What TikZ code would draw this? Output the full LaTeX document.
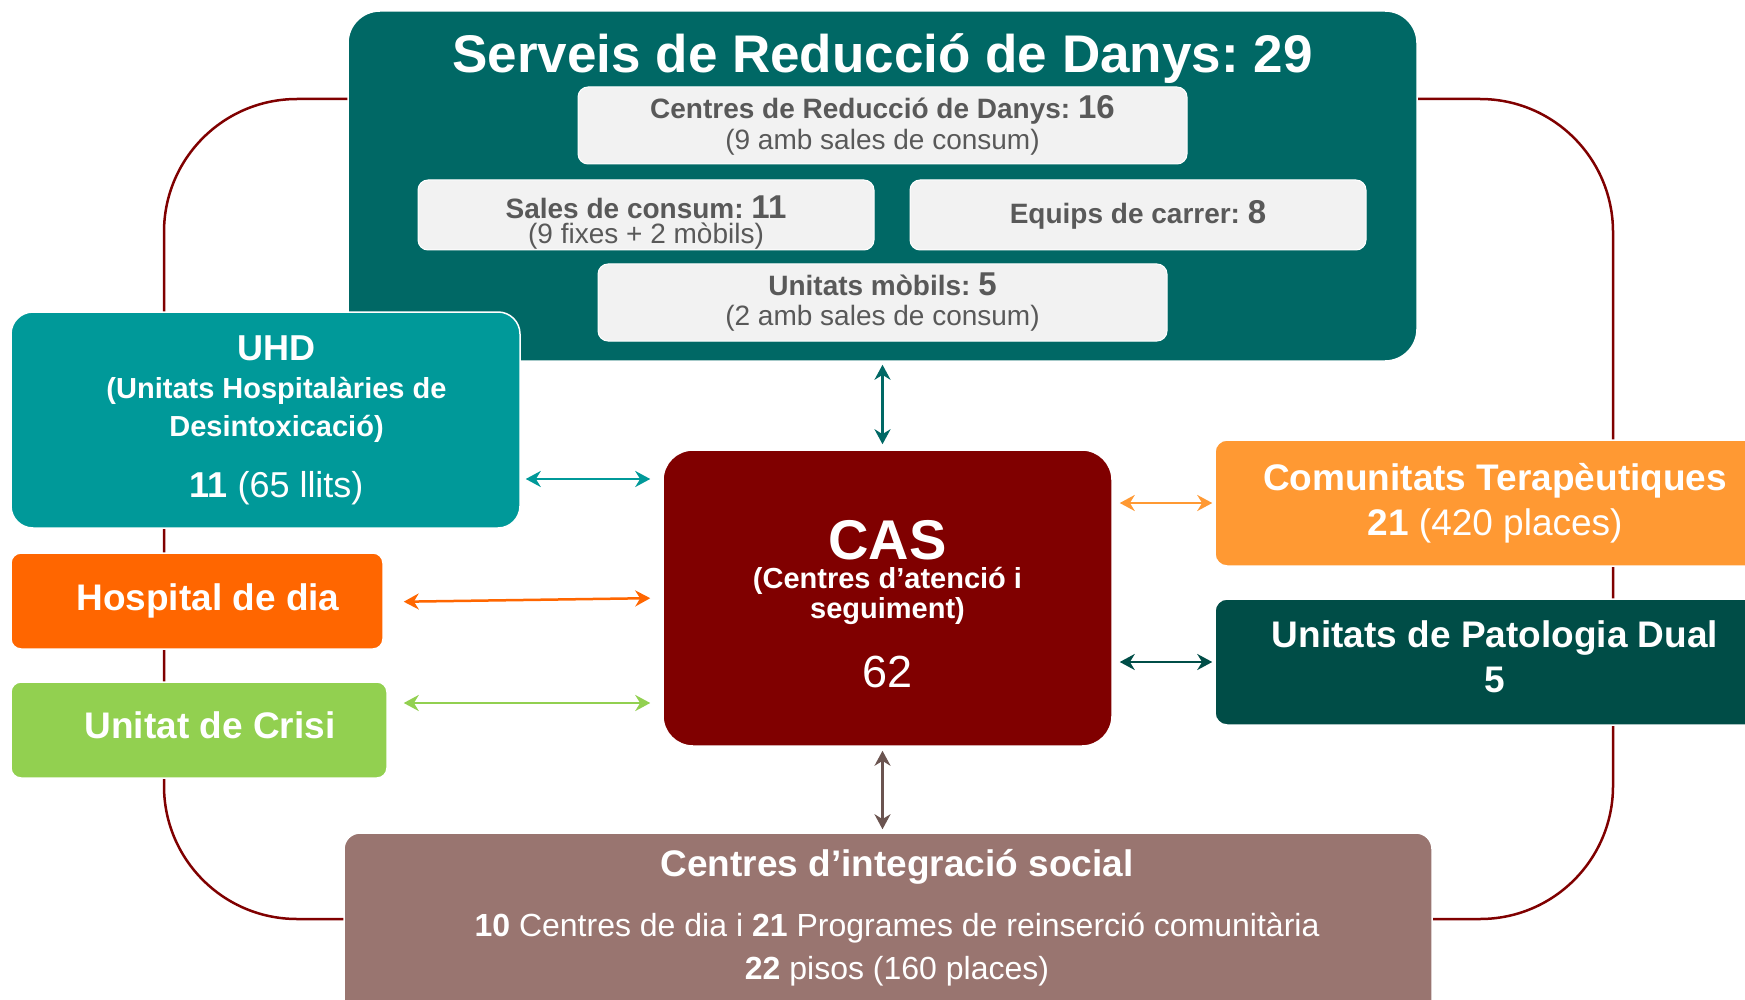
\documentclass[tikz,border=0pt]{standalone}
\usepackage{fontspec}
\setmainfont{Liberation Sans}
\usetikzlibrary{arrows.meta, positioning, calc}
\frenchspacing

\definecolor{srdteal}{HTML}{006865}
\definecolor{uhdteal}{HTML}{009999}
\definecolor{hosporange}{HTML}{FF6600}
\definecolor{crisigreen}{HTML}{92D050}
\definecolor{casred}{HTML}{800000}
\definecolor{ctorange}{HTML}{FF9933}
\definecolor{updgreen}{HTML}{004D47}
\definecolor{cismauve}{HTML}{997570}
\definecolor{cisarrow}{HTML}{6B5450}
\definecolor{framered}{HTML}{800000}
\definecolor{subgray}{HTML}{F2F2F2}
\definecolor{subtext}{HTML}{595959}

\newcommand{\subnum}[1]{{\fontsize{33}{33}\selectfont #1}}
\newcommand{\padl}{\hspace*{22pt}}

\begin{document}
\begin{tikzpicture}[x=1pt, y=-1pt,
    box/.style={draw=white, line width=1.5pt, inner sep=0pt, align=center, text=white},
    subbox/.style={draw=white, line width=1pt, fill=subgray, rounded corners=10pt, inner sep=0pt,
      align=center, text=subtext},
    conn/.style={{Stealth[length=15pt,width=16pt]}-{Stealth[length=15pt,width=16pt]}, line width=2.5pt},
    frame/.style={draw=framered, line width=2.5pt, rounded corners=133pt}]

    \useasboundingbox (0,0) rectangle (1745,1000);
    \clip (0,0) rectangle (1745,1000);
    \fill[white] (0,0) rectangle (1745,1000);

    % frame behind the boxes
    \draw[frame] (164,99) rectangle (1613,919);

    % harm reduction services
    \node (srd) [box, fill=srdteal, rounded corners=32pt, minimum width=1069pt, minimum height=350pt] at (882.5,186) {};
    \node (srdtitle) [below=23pt of srd.north, inner sep=0pt, text=white, font=\fontsize{53}{60}\selectfont\bfseries] {Serveis de Reducció de Danys: 29};
    \node (crd) [subbox, minimum width=609pt, minimum height=77pt, font=\fontsize{28}{31}\selectfont\bfseries] at (882.5,125.5)
      {Centres de Reducció de Danys: \subnum{16}\\ \mdseries (9 amb sales de consum)};
    \node (sales) [subbox, minimum width=456pt, minimum height=70pt, font=\fontsize{28}{25}\selectfont\bfseries] at (646,215)
      {\rule{0pt}{37pt}Sales de consum: \subnum{11}\\ \mdseries (9 fixes + 2 mòbils)};
    \node (equips) [subbox, minimum width=456pt, minimum height=70pt, font=\fontsize{28}{31}\selectfont\bfseries] at (1138,215)
      {Equips de carrer: \subnum{8}};
    \node (mobils) [subbox, minimum width=569pt, minimum height=77pt, font=\fontsize{28}{30}\selectfont\bfseries] at (882.5,302.5)
      {Unitats mòbils: \subnum{5}\\ \mdseries (2 amb sales de consum)};

    % left column
    \node (uhd) [box, fill=uhdteal, rounded corners=22pt, minimum width=509pt, minimum height=216pt, font=\fontsize{29}{38}\selectfont\bfseries] at (265.5,420)
      {\padl{\fontsize{36}{38}\selectfont UHD}\\ \padl(Unitats Hospitalàries de\\ \padl Desintoxicació)\\[23pt] \padl{\fontsize{36}{38}\selectfont 11 \mdseries(65 llits)}};
    \node (hosp) [box, fill=hosporange, rounded corners=10pt, minimum width=372pt, minimum height=96pt, font=\fontsize{37}{44}\selectfont\bfseries] at (197,601)
      {\padl Hospital de dia};
    \node (crisi) [box, fill=crisigreen, rounded corners=10pt, minimum width=376pt, minimum height=96pt, font=\fontsize{37}{44}\selectfont\bfseries] at (199,730)
      {\padl Unitat de Crisi\rule[-9pt]{0pt}{0pt}};

    % centre
    \node (cas) [box, fill=casred, rounded corners=30pt, minimum width=449pt, minimum height=296pt, font=\fontsize{29}{29.5}\selectfont\bfseries] at (887.5,598)
      {{\fontsize{56}{56}\selectfont CAS}\rule{0pt}{51pt}\\ (Centres d’atenció i\\ seguiment)\\[31pt] {\fontsize{45}{45}\selectfont\mdseries 62}};

    % right column
    \node (ct) [box, fill=ctorange, rounded corners=12pt, minimum width=560pt, minimum height=126pt, font=\fontsize{37}{45}\selectfont\bfseries] at (1495,503)
      {Comunitats Terapèutiques\\ 21 \mdseries(420 places)};
    \node (upd) [box, fill=updgreen, rounded corners=12pt, minimum width=560pt, minimum height=126pt, font=\fontsize{37}{45}\selectfont\bfseries] at (1495,662)
      {Unitats de Patologia Dual\\ 5\rule[-10pt]{0pt}{0pt}};

    % social integration
    \node (cis) [box, fill=cismauve, rounded corners=16pt, minimum width=1088pt, minimum height=200pt] at (888,933) {};
    \node (cistext) [below=17pt of cis.north, xshift=9pt, inner sep=0pt, align=center, text=white, font=\fontsize{32}{43}\selectfont]
      {\textbf{\fontsize{37}{44}\selectfont Centres d’integració social}\\[17pt]
       \textbf{10} Centres de dia i \textbf{21} Programes de reinserció comunitària\\
       \textbf{22} pisos (160 places)};

    % connectors
    \draw[conn, color=srdteal, shorten <=3pt, shorten >=5pt] (srd.south) -- (srd.south |- cas.north);
    \draw[conn, color=uhdteal, shorten <=5pt, shorten >=12pt] ($(uhd.east)+(0,59)$) -- ($(cas.west |- uhd.east)+(0,59)$);
    \draw[conn, color=hosporange, shorten <=20pt, shorten >=12pt] ($(hosp.east)+(0,1)$) -- ($(cas.west |- hosp.east)+(0,-3)$);
    \draw[conn, color=crisigreen, shorten <=16pt, shorten >=12pt] ($(crisi.east)+(0,-27)$) -- ($(cas.west |- crisi.east)+(0,-27)$);
    \draw[conn, color=ctorange, shorten <=7pt, shorten >=2pt] (cas.east |- ct.west) -- (ct.west);
    \draw[conn, color=updgreen, shorten <=7pt, shorten >=2pt] (cas.east |- upd.west) -- (upd.west);
    \draw[conn, color=cisarrow, shorten <=4pt, shorten >=3pt] (srd.south |- cas.south) -- (srd.south |- cis.north);
\end{tikzpicture}
\end{document}
